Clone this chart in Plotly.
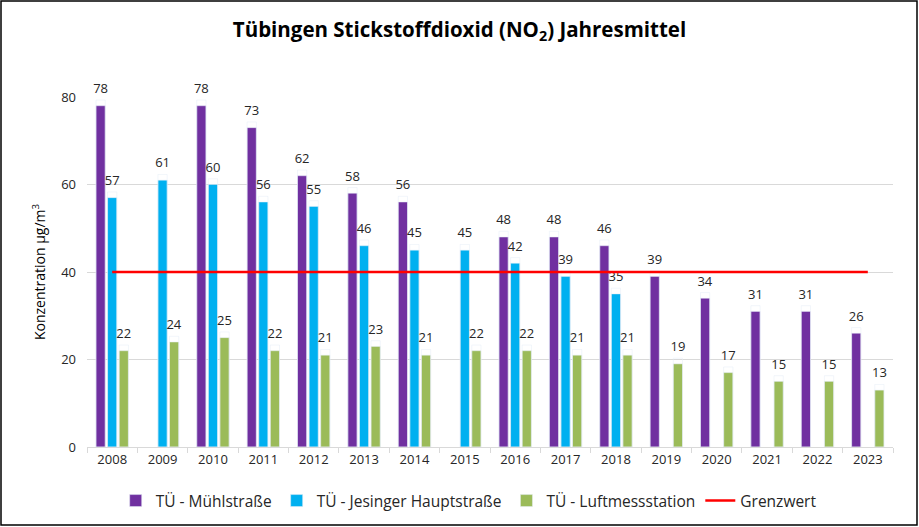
import plotly.graph_objects as go

years = [str(y) for y in range(2008, 2024)]
muehl = [78, None, 78, 73, 62, 58, 56, None, 48, 48, 46, 39, 34, 31, 31, 26]
jesinger = [57, 61, 60, 56, 55, 46, 45, 45, 42, 39, 35, None, None, None, None, None]
luft = [22, 24, 25, 22, 21, 23, 21, 22, 22, 21, 21, 19, 17, 15, 15, 13]
grenzwert = [40] * len(years)

names = ["TÜ - Mühlstraße", "TÜ - Jesinger Hauptstraße", "TÜ - Luftmessstation", "Grenzwert"]
colors = ["#7030A0", "#00B0F0", "#9BBB59", "#FF0000"]

FONT = "Open Sans, Noto Sans, sans-serif"
LABEL_LIFT = 1.3  # data-label gap above bar, in axis units

def lab(vals):
    return ["" if v is None else str(v) for v in vals]

fig = go.Figure()
for i, (vals, name, col) in enumerate(zip([muehl, jesinger, luft], names[:3], colors[:3])):
    fig.add_trace(go.Bar(
        x=years, y=vals, name=name, marker_color=col, offsetgroup=str(i),
        hoverinfo="x+y",
    ))
for i, vals in enumerate([muehl, jesinger, luft]):
    fig.add_trace(go.Bar(
        x=years, y=[None if v is None else v + LABEL_LIFT for v in vals],
        offsetgroup=str(i), marker_color="rgba(0,0,0,0)", showlegend=False,
        text=lab(vals), textposition="outside", constraintext="none",
        textfont=dict(size=13, color="#262626", family=FONT),
        cliponaxis=False, hoverinfo="skip",
    ))
fig.add_trace(go.Scatter(
    x=years, y=grenzwert, name=names[3], mode="lines",
    line=dict(color=colors[3], width=2.5),
))

L, R, T, B = 87, 26, 97, 80
W, H = 919, 527
pw, ph = W - L - R, H - T - B

fig.update_layout(
    width=W, height=H,
    margin=dict(l=L, r=R, t=T, b=B),
    paper_bgcolor="white", plot_bgcolor="white",
    barmode="group", bargap=0.31, bargroupgap=0.2,
    font=dict(family=FONT, color="#262626"),
    title=dict(
        text="<b>Tübingen Stickstoffdioxid (NO<sub>2</sub>) Jahresmittel</b>",
        x=0.5, xref="container", xanchor="center",
        y=1 - 30 / H, yref="container", yanchor="middle",
        font=dict(size=20.5, color="#000000", family=FONT),
    ),
    xaxis=dict(
        type="category", showgrid=False, showline=True, linecolor="#D9D9D9",
        linewidth=1, ticks="outside", tickson="boundaries", ticklen=5,
        tickcolor="#D9D9D9", tickfont=dict(size=13, color="#262626"),
    ),
    yaxis=dict(
        range=[0, 80], tickvals=[0, 20, 40, 60, 80], showgrid=True,
        gridcolor="#D9D9D9", gridwidth=1, zeroline=False, showline=False,
        tickfont=dict(size=13, color="#262626"), ticklabelstandoff=10,
        title=dict(text="Konzentration µg/m<sup>3</sup>", font=dict(size=14, color="#000000"),
                   standoff=12),
    ),
    legend=dict(
        orientation="h", x=0.51, xref="container", xanchor="center",
        y=1 - 501 / H, yref="container", yanchor="middle",
        font=dict(size=15.5, color="#262626"), itemwidth=30,
    ),
    showlegend=True,
)

# chart border
fig.add_shape(
    type="rect", xref="paper", yref="paper",
    x0=(1 - L) / pw, x1=(W - 2 - L) / pw,
    y0=(H - B - (H - 2)) / ph, y1=(H - B - 1) / ph,
    line=dict(color="#000000", width=1.5), fillcolor="rgba(0,0,0,0)",
    layer="below",
)

fig.write_html("out.html")
